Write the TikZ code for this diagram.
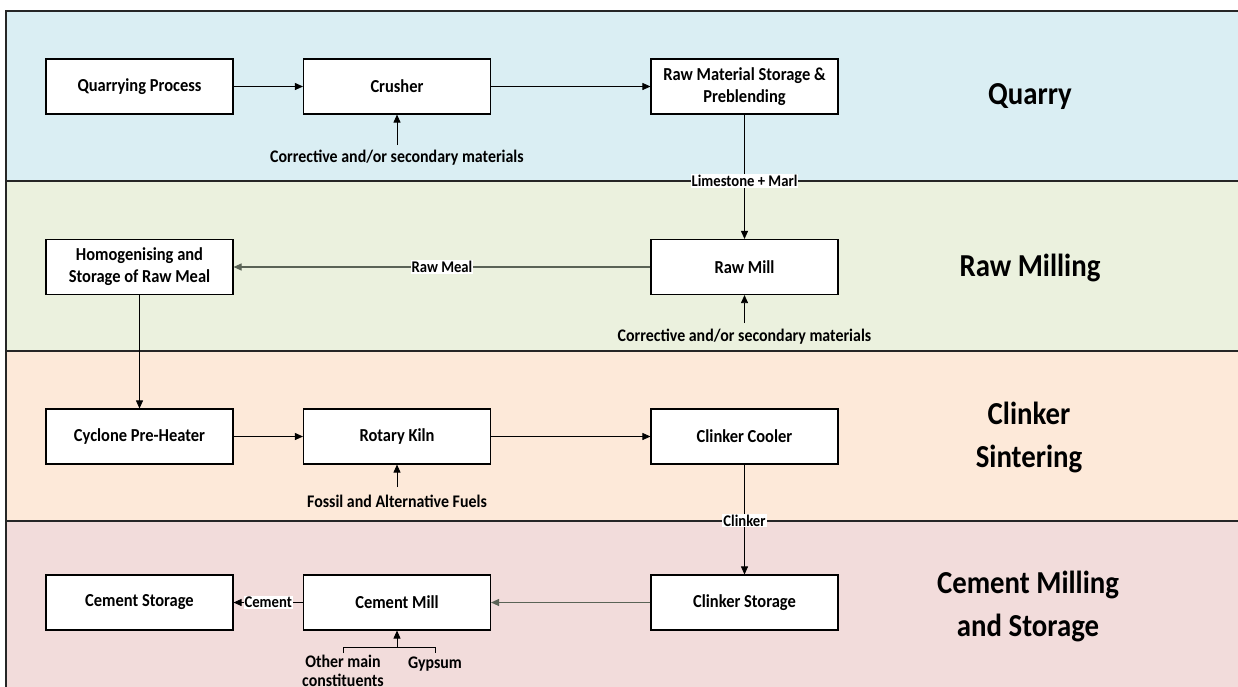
\documentclass[tikz,border=0pt]{standalone}
\usepackage{fontspec}
\setmainfont{Carlito}[FakeStretch=0.9]
\usetikzlibrary{arrows.meta}
\definecolor{bandA}{HTML}{DAEEF3}
\definecolor{bandB}{HTML}{EBF1DE}
\definecolor{bandC}{HTML}{FDE9D9}
\definecolor{bandD}{HTML}{F2DCDB}
\definecolor{frameline}{HTML}{262626}
\definecolor{greyline}{HTML}{5A6356}
\tikzset{
  procbox/.style={draw=black, fill=white, line width=1.1pt, minimum width=187pt, minimum height=55pt, inner sep=0pt, align=center, font=\fontsize{18.3}{22}\selectfont\bfseries},
  flow/.style={line width=0.8pt, -{Triangle[length=8pt,width=7pt]}},
  greyflow/.style={flow, draw=greyline, line width=1.1pt},
  flowlabel/.style={fill=white, inner sep=1pt, font=\fontsize{16.3}{19}\selectfont\bfseries},
  inlabel/.style={inner sep=0pt, align=center, font=\fontsize{17.7}{19}\selectfont\bfseries},
  bandtitle/.style={align=center, inner sep=0pt, font=\fontsize{32}{43}\selectfont\bfseries},
  bandline/.style={draw=frameline, line width=1.6pt}
}
\begin{document}
\begin{tikzpicture}[x=1pt,y=-1pt]
\useasboundingbox (0,0) rectangle (1238,686);
% bands
\fill[bandA] (6,11) rectangle (1250,181);
\fill[bandB] (6,181) rectangle (1250,351);
\fill[bandC] (6,351) rectangle (1250,521);
\fill[bandD] (6,521) rectangle (1250,700);
\draw[bandline] (6,700) -- (6,11) -- (1250,11);
\draw[bandline] (6,181) -- (1250,181);
\draw[bandline] (6,351) -- (1250,351);
\draw[bandline] (6,521) -- (1250,521);
% band titles
\node[bandtitle] (tQ) at (1030,97) {Quarry};
\node[bandtitle] (tR) at (1030,268) {Raw Milling};
\node[bandtitle] (tC) at (1029,437) {Clinker\\Sintering};
\node[bandtitle] (tM) at (1028,606) {Cement Milling\\and Storage};
% boxes
\node[procbox] (qp) at (139.5,86.5) {Quarrying Process};
\node[procbox] (cr) at (397,86.5) {Crusher};
\node[procbox] (rms) at (744.5,86.5) {Raw Material Storage \&\\Preblending};
\node[procbox] (hom) at (139.5,267) {Homogenising and\\Storage of Raw Meal};
\node[procbox] (rm) at (744.5,267) {Raw Mill};
\node[procbox] (cph) at (139.5,436.5) {Cyclone Pre-Heater};
\node[procbox] (rk) at (397,436.5) {Rotary Kiln};
\node[procbox] (cc) at (744.5,436.5) {Clinker Cooler};
\node[procbox] (cs) at (139.5,602.5) {Cement Storage};
\node[procbox] (cm) at (397,602.5) {Cement Mill};
\node[procbox] (cks) at (744.5,602.5) {Clinker Storage};
% input labels
\node[inlabel] (in1) at (397,158) {Corrective and/or secondary materials};
\node[inlabel] (in2) at (744.5,337) {Corrective and/or secondary materials};
\node[inlabel] (in3) at (397,501) {Fossil and Alternative Fuels};
\node[inlabel, anchor=north] (in4) at (343,655) {Other main\\constituents};
\node[inlabel, anchor=north] (in5) at (435,657) {Gypsum};
\coordinate (a1) at (397,145);
\coordinate (a2) at (744.5,323);
\coordinate (a3) at (397,487);
\coordinate (b0) at (397,647);
\coordinate (b1) at (343,647);
\coordinate (b2) at (435,647);
\coordinate (b1d) at (343,653);
\coordinate (b2d) at (435,653);
% connectors
\draw[flow] (qp) -- (cr);
\draw[flow] (cr) -- (rms);
\draw[flow] (rms) -- node[flowlabel, pos=0.534] (lm) {Limestone + Marl} (rm);
\draw[greyflow] (rm) -- node[flowlabel] (rml) {Raw Meal} (hom);
\draw[flow] (hom) -- (cph);
\draw[flow] (cph) -- (rk);
\draw[flow] (rk) -- (cc);
\draw[flow] (cc) -- node[flowlabel, pos=0.51] (ckl) {Clinker} (cks);
\draw[greyflow] (cks) -- (cm);
\draw[flow] (cm) -- node[flowlabel] (cel) {Cement} (cs);
\draw[flow] (a1) -- (cr);
\draw[flow] (a2) -- (rm);
\draw[flow] (a3) -- (rk);
\draw[flow] (b0) -- (cm);
\draw[line width=0.8pt] (b1d) -- (b1) -- (b2) -- (b2d);
\end{tikzpicture}
\end{document}
